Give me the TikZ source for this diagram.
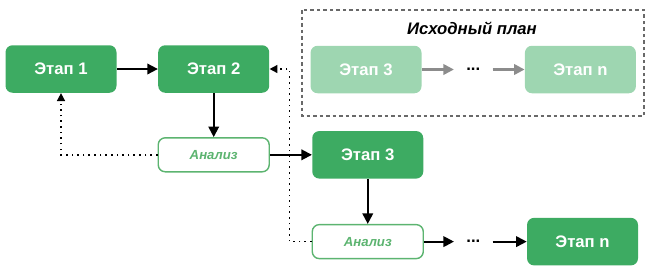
\documentclass[tikz,border=0pt]{standalone}
\usepackage{fontspec}
\setmainfont{Liberation Sans}
\usepackage{tikz}
\usetikzlibrary{arrows.meta, positioning}
\definecolor{stagegreen}{RGB}{61,171,98}
\definecolor{plangreen}{RGB}{158,214,177}
\definecolor{checkgreen}{RGB}{92,180,112}
\definecolor{framegray}{RGB}{105,105,105}
\definecolor{arrowgray}{RGB}{140,140,140}

\begin{document}
\begin{tikzpicture}[
    stagebox/.style={rectangle, fill=stagegreen, text=white,
                     minimum width=2.22cm, minimum height=0.95cm,
                     rounded corners=4pt, font=\fontsize{9.5}{11}\selectfont\bfseries},
    planbox/.style={stagebox, fill=plangreen},
    checkbox/.style={rectangle, draw=checkgreen, line width=0.8pt, fill=white,
                     text=checkgreen, minimum width=2.22cm, minimum height=0.68cm,
                     rounded corners=4pt, font=\fontsize{7.5}{9}\selectfont\bfseries\itshape},
    dotsnode/.style={inner sep=0pt, minimum width=0.76cm, font=\fontsize{9.5}{11}\selectfont\bfseries},
    framebox/.style={draw=framegray, line width=1.1pt, dash pattern=on 2pt off 1.7pt},
    arrow/.style={-{Triangle[length=6pt, width=6pt]}, line width=1.1pt},
    grayarrow/.style={arrow, draw=arrowgray, fill=arrowgray, line width=1.3pt},
    backarrow/.style={-{Triangle[length=4.5pt, width=4.5pt]}, line width=0.9pt,
                      dash pattern=on 0.9pt off 2.3pt}
]
\useasboundingbox (0,0) rectangle (13,-5.48);

% Current plan
\node[stagebox] (st1) at (1.22,-1.38) {Этап 1};
\node[stagebox, right=0.82cm of st1] (st2) {Этап 2};
\node[checkbox, below=0.88cm of st2] (an1) {Анализ};
\node[stagebox, right=0.84cm of an1] (st3) {Этап 3};
\node[checkbox, below=0.9cm of st3] (an2) {Анализ};
\node[dotsnode, right=0.6cm of an2] (dots) {...};
\node[stagebox, right=0.68cm of dots] (stn) {Этап n};

% Original plan
\draw[framebox] (6.04,-0.2) rectangle (12.88,-2.32);
\node[font=\fontsize{9.5}{11}\selectfont\bfseries\itshape] (title) at (9.44,-0.56) {Исходный план};
\node[planbox] (pl3) at (7.32,-1.39) {Этап 3};
\node[dotsnode, right=0.64cm of pl3] (pldots) {...};
\node[planbox, right=0.64cm of pldots] (pln) {Этап n};

% Arrows
\draw[arrow] (st1) -- (st2);
\draw[arrow] (st2) -- (an1);
\draw[arrow] (an1.east) -- (an1.east -| st3.west);
\draw[arrow] (st3.south) -- (st3.south |- an2.north);
\draw[arrow] (an2) -- (dots);
\draw[arrow] (dots) -- (stn);
\draw[grayarrow] (pl3) -- (pldots);
\draw[grayarrow] (pldots) -- (pln);

% Feedback
\draw[backarrow] (an1.west) -| (st1.south);
\draw[backarrow] (an2.west) -- ++(-0.44,0) |- (st2.east);

\end{tikzpicture}
\end{document}
